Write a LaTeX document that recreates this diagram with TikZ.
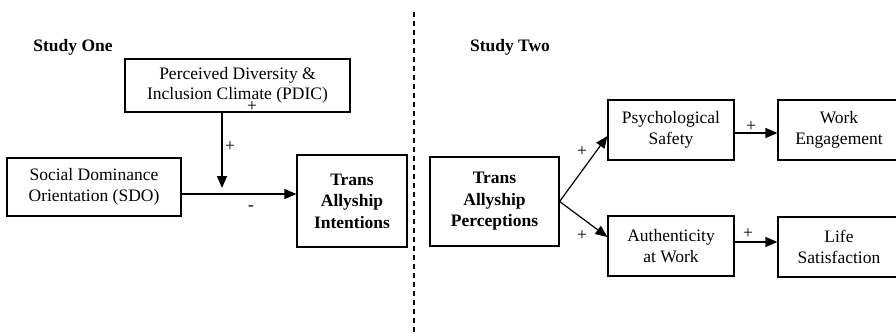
\documentclass[tikz,border=0pt]{standalone}
\usepackage{fontspec}
\setmainfont{Liberation Serif}
\usetikzlibrary{arrows.meta,calc}
\begin{document}
\begin{tikzpicture}[x=1pt,y=-1pt,
  box/.style={draw,line width=1.2pt,align=center,inner sep=0pt,font=\fontsize{17.5}{20.5}\selectfont},
  bbox/.style={box,font=\fontsize{17.5}{21.5}\selectfont\bfseries},
  arr/.style={line width=1.2pt,-{Triangle[length=12pt,width=10pt]}},
  lbl/.style={font=\fontsize{17.5}{20}\selectfont,inner sep=0pt},
  ttl/.style={font=\fontsize{17.5}{20}\selectfont\bfseries,inner sep=0pt}]
\useasboundingbox (0,0) rectangle (896,335);
\clip (0,0) rectangle (896,335);
\node[ttl] (t1) at (73,47) {Study One};
\node[ttl] (t2) at (510,47) {Study Two};
\node[box,minimum width=225pt,minimum height=53pt] (pdic) at (237.5,85.5) {Perceived Diversity \&\\Inclusion Climate (PDIC)};
\node[box,minimum width=174pt,minimum height=58pt] (sdo) at (94,187) {Social Dominance\\Orientation (SDO)};
\node[bbox,minimum width=110pt,minimum height=92pt] (tai) at (352,201) {Trans\\Allyship\\Intentions};
\node[bbox,minimum width=129pt,minimum height=89pt] (tap) at (494.5,201.5) {Trans\\Allyship\\Perceptions};
\node[box,minimum width=126pt,minimum height=60pt] (ps) at (671,130) {Psychological\\Safety};
\node[box,minimum width=122pt,minimum height=60pt] (we) at (839,130) {Work\\Engagement};
\node[box,minimum width=126pt,minimum height=60pt] (aw) at (671,246) {Authenticity\\at Work};
\node[box,minimum width=122pt,minimum height=60pt] (ls) at (839,247) {Life\\Satisfaction};
\coordinate (mod) at (222,188);
\coordinate (hl) at (181,194);
\draw[arr] (mod |- pdic.south) -- (mod);
\draw[arr] (sdo.east |- hl) -- (tai.west |- hl);
\draw[arr] (tap.east) -- ($(ps.west)+(0,6)$);
\draw[arr] (tap.east) -- ($(aw.west)+(0,-9)$);
\draw[arr] ($(ps.east)+(0,3)$) -- ($(we.west)+(0,3)$);
\draw[arr] ($(aw.east)+(0,-4)$) -- ($(ls.west)+(0,-5)$);
\coordinate (dtop) at (414,12);
\coordinate (dbot) at (414,335);
\draw[line width=1.2pt,dash pattern=on 5pt off 4pt] (dtop) -- (dbot);
\node[lbl] (p0) at (252,107) {+};
\node[lbl] (p1) at (230,147) {+};
\node[lbl] (m1) at (251,208) {-};
\node[lbl] (p2) at (582,152) {+};
\node[lbl] (p3) at (582,236) {+};
\node[lbl] (p4) at (751,127) {+};
\node[lbl] (p5) at (748,234) {+};
\end{tikzpicture}
\end{document}
